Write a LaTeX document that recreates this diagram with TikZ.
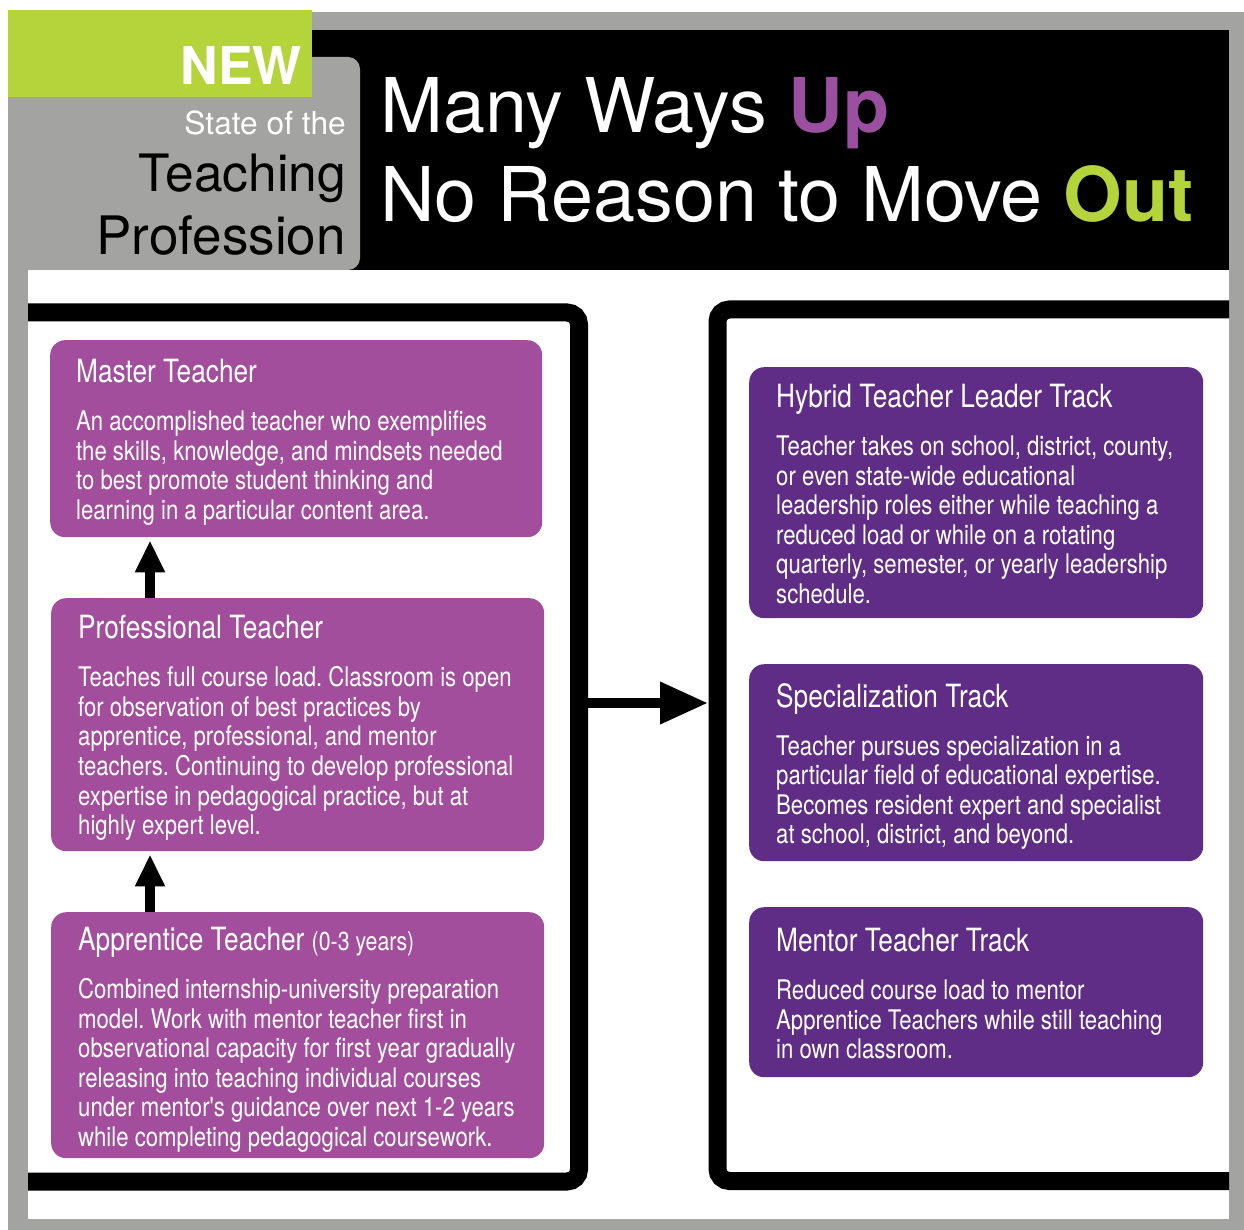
\documentclass[tikz,border=0pt]{standalone}
\usepackage{fontspec}
\setmainfont{TeX Gyre Heros}
\newfontfamily\condfont[FakeStretch=0.82]{TeX Gyre Heros}
\usetikzlibrary{arrows.meta}
\definecolor{framegray}{HTML}{A3A3A1}
\definecolor{lime}{HTML}{B5D33A}
\definecolor{tierpurple}{HTML}{A34E9C}
\definecolor{trackpurple}{HTML}{5F2D86}
\definecolor{uppurple}{HTML}{9B4FA0}
\frenchspacing

\begin{document}
\begin{tikzpicture}[x=1pt, y=-1pt,
    tier/.style={fill=tierpurple, rounded corners=15pt, anchor=north west, inner sep=0pt},
    track/.style={fill=trackpurple, rounded corners=15pt, anchor=north west, inner sep=0pt},
    boxtext/.style={anchor=north west, inner sep=0pt, align=left, text=white,
        font=\condfont\fontsize{27}{29.6}\selectfont},
    head/.style={inner sep=0pt, anchor=base east},
    bracket/.style={line width=18pt, rounded corners=12pt},
    uparrow/.style={line width=10pt, shorten >=3pt, -{Triangle[length=32pt, width=28pt]}},
    outarrow/.style={line width=10pt, -{Triangle[length=48pt, width=40pt]}}]
    \useasboundingbox (0,0) rectangle (1244,1230);
    % frame and title band
    \fill[white] (0,0) rectangle (1244,1230);
    \fill[framegray] (8,12) rectangle (1244,1230);
    \fill[black] (312,30) rectangle (1229,270);
    \fill[framegray, rounded corners=12pt] (8,57) rectangle (360,270);
    \fill[lime] (8,10) rectangle (312,97);
    \fill[white] (28,270) rectangle (1229,1219);

    \node[head, text=white, font=\bfseries\fontsize{52}{52}\selectfont] (new) at (302,85) {NEW};
    \node[head, text=white, font=\fontsize{31.7}{32}\selectfont] (stateof) at (346,135) {State of the};
    \node[head, font=\fontsize{51.5}{52}\selectfont] (teaching) at (346,192) {Teaching};
    \node[head, font=\fontsize{53}{53}\selectfont] (profession) at (346,255) {Profession};

    \node[inner sep=0pt, anchor=base west, text=white, font=\fontsize{75.5}{75}\selectfont]
        (waysup) at (380,133) {Many Ways \textbf{\color{uppurple}Up}};
    \node[inner sep=0pt, anchor=base west, text=white, font=\fontsize{75.5}{75}\selectfont]
        (moveout) at (380,222) {No Reason to Move \textbf{\color{lime}Out}};

    % brackets
    \draw[bracket] (28,312.5) -- (579,312.5) -- (579,1181.5) -- (28,1181.5);
    \draw[bracket] (1229,309.5) -- (717.5,309.5) -- (717.5,1181) -- (1229,1181);

    % career tiers
    \node[tier, minimum width=492pt, minimum height=197pt] (master) at (50,340) {};
    \node[tier, minimum width=493pt, minimum height=253pt] (professional) at (51,598) {};
    \node[tier, minimum width=493pt, minimum height=246pt] (apprentice) at (51,912) {};

    \node[boxtext] (mastertext) at ([shift={(26,19)}]master.north west)
        {{\fontsize{32}{29.6}\selectfont Master Teacher}\\[18.4pt]
        An accomplished teacher who exemplifies\\
        the skills, knowledge, and mindsets needed\\
        to best promote student thinking and\\
        learning in a particular content area.};
    \node[boxtext] (proftext) at ([shift={(27,17)}]professional.north west)
        {{\fontsize{32}{29.6}\selectfont Professional Teacher}\\[18.4pt]
        Teaches full course load. Classroom is open\\
        for observation of best practices by\\
        apprentice, professional, and mentor\\
        teachers. Continuing to develop professional\\
        expertise in pedagogical practice, but at\\
        highly expert level.};
    \node[boxtext] (apprtext) at ([shift={(27,15)}]apprentice.north west)
        {{\fontsize{32}{29.6}\selectfont Apprentice Teacher {\fontsize{26}{29.6}\selectfont(0-3 years)}}\\[18.4pt]
        Combined internship-university preparation\\
        model. Work with mentor teacher first in\\
        observational capacity for first year gradually\\
        releasing into teaching individual courses\\
        under mentor's guidance over next 1-2 years\\
        while completing pedagogical coursework.};

    % tracks
    \node[track, minimum width=454pt, minimum height=251pt] (hybrid) at (749,367) {};
    \node[track, minimum width=454pt, minimum height=197pt] (special) at (749,664) {};
    \node[track, minimum width=454pt, minimum height=170pt] (mentor) at (749,907) {};

    \node[boxtext] (hybridtext) at ([shift={(27,17)}]hybrid.north west)
        {{\fontsize{32}{29.6}\selectfont Hybrid Teacher Leader Track}\\[18.4pt]
        Teacher takes on school, district, county,\\
        or even state-wide educational\\
        leadership roles either while teaching a\\
        reduced load or while on a rotating\\
        quarterly, semester, or yearly leadership\\
        schedule.};
    \node[boxtext] (specialtext) at ([shift={(27,19)}]special.north west)
        {{\fontsize{32}{29.6}\selectfont Specialization Track}\\[18.4pt]
        Teacher pursues specialization in a\\
        particular field of educational expertise.\\
        Becomes resident expert and specialist\\
        at school, district, and beyond.};
    \node[boxtext] (mentortext) at ([shift={(27,21)}]mentor.north west)
        {{\fontsize{32}{29.6}\selectfont Mentor Teacher Track}\\[18.4pt]
        Reduced course load to mentor\\
        Apprentice Teachers while still teaching\\
        in own classroom.};

    % arrows
    \draw[uparrow] ([xshift=99pt]professional.north west) -- ([xshift=99pt]professional.north west |- master.south);
    \draw[uparrow] ([xshift=99pt]apprentice.north west) -- ([xshift=99pt]apprentice.north west |- professional.south);
    \coordinate (leftedge) at (588,703);
    \coordinate (rightedge) at (708,703);
    \draw[outarrow] (leftedge) -- (rightedge);
\end{tikzpicture}
\end{document}
